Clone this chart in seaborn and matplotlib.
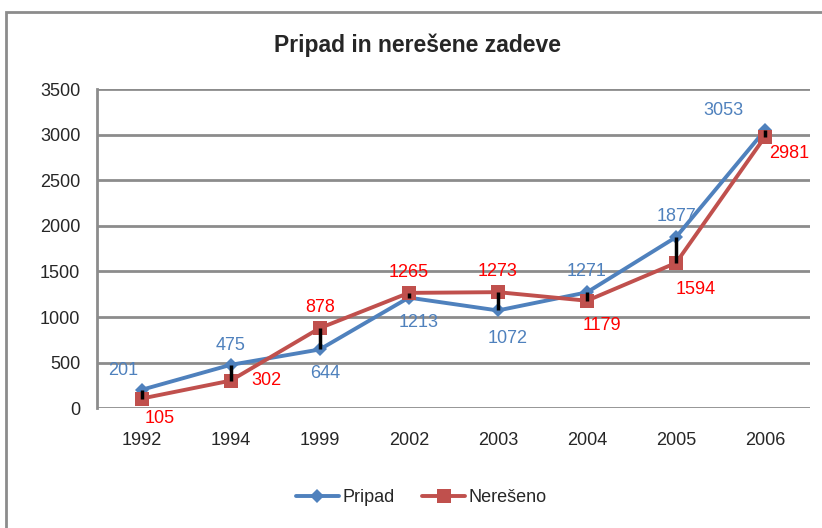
import numpy as np
import pandas as pd
import matplotlib
matplotlib.use('Agg')
import matplotlib.pyplot as plt
import seaborn as sns
from matplotlib.patches import Rectangle

# Podatki
years = ['1992', '1994', '1999', '2002', '2003', '2004', '2005', '2006']
pripad = [201, 475, 644, 1213, 1072, 1271, 1877, 3053]
neresno = [105, 302, 878, 1265, 1273, 1179, 1594, 2981]

# label offsets in points (dx, dy)
off_pripad = [(-13, 14), (0, 14), (4, -17), (7, -18), (7, -20), (0, 15), (0, 15), (-30, 14)]
off_neres = [(13, -14), (26, 0), (0, 15), (0, 15), (0, 15), (11, -18), (14, -19), (17, -12)]

blue = '#4F81BD'
red = '#C0504D'

df = pd.DataFrame({
    'x': list(range(len(years))) * 2,
    'val': pripad + neresno,
    'serija': ['Pripad'] * len(years) + ['Nerešeno'] * len(years),
})

sns.set_style('white')
plt.rcParams['font.family'] = ['Liberation Sans', 'DejaVu Sans']

fig = plt.figure(figsize=(8.22, 5.28), dpi=100)
ax = fig.add_axes([0.118, 0.227, 0.867, 0.604])

# high-low lines
ax.vlines(range(len(years)), np.minimum(pripad, neresno), np.maximum(pripad, neresno),
          color='black', lw=2.5, zorder=4)

sns.lineplot(data=df, x='x', y='val', hue='serija', style='serija',
             palette={'Pripad': blue, 'Nerešeno': red},
             markers={'Pripad': 'D', 'Nerešeno': 's'}, dashes=False,
             markersize=8, linewidth=2.8, markeredgewidth=0, ax=ax, zorder=3)
for line in ax.get_lines():
    if line.get_marker() == 's':
        line.set_markersize(10)
    elif line.get_marker() == 'D':
        line.set_markersize(7)

for i in range(len(years)):
    ax.annotate(str(pripad[i]), (i, pripad[i]), xytext=off_pripad[i], textcoords='offset points',
                ha='center', va='center', color=blue, fontsize=13)
    ax.annotate(str(neresno[i]), (i, neresno[i]), xytext=off_neres[i], textcoords='offset points',
                ha='center', va='center', color='#FF0000', fontsize=13)

ax.set_xlim(-0.5, len(years) - 0.5)
ax.set_ylim(0, 3500)
ax.set_yticks(range(0, 3501, 500))
ax.set_xticks(range(len(years)))
ax.set_xticklabels(years)
ax.yaxis.grid(True, color='#8C8C8C', lw=2)
ax.xaxis.grid(False)
ax.set_axisbelow(True)
for s in ['top', 'right', 'bottom']:
    ax.spines[s].set_visible(False)
ax.spines['left'].set_color('#8C8C8C')
ax.spines['left'].set_linewidth(2)
ax.tick_params(axis='y', length=5, width=2, color='#8C8C8C', labelsize=13, pad=7)
ax.tick_params(axis='x', length=0, labelsize=13, pad=17)
ax.set_xlabel('')
ax.set_ylabel('')

fig.text(0.508, 0.915, 'Pripad in nerešene zadeve', ha='center', va='center',
         fontsize=16.5, fontweight='bold')

handles, labels = ax.get_legend_handles_labels()
ax.legend(handles, labels, loc='center', bbox_to_anchor=(0.455, -0.28), ncol=2,
          frameon=False, fontsize=13, handlelength=2.4, columnspacing=1.5, handletextpad=0.2)

fig.patches.append(Rectangle((6 / 822, -0.05), 1.2, 1 - 12 / 528 + 0.05, transform=fig.transFigure,
                             fill=False, edgecolor='#8C8C8C', lw=2))

fig.savefig('out.png', dpi=100)
